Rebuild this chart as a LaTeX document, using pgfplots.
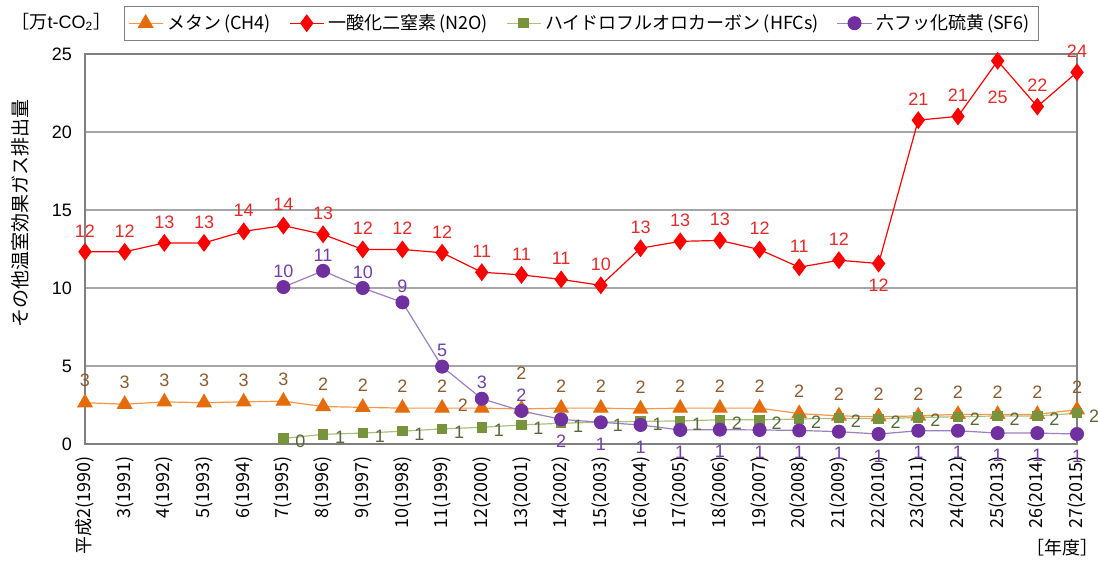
\documentclass[border=0pt]{standalone}
\usepackage{pgfplots}
\pgfplotsset{compat=1.18}
\usepackage{fontspec}
\setmainfont{Liberation Sans}
\newfontfamily\cjk{Noto Sans CJK JP}

\definecolor{ch4}{HTML}{E46C0A}
\definecolor{ch4line}{HTML}{F79646}
\definecolor{ch4lab}{HTML}{8E5A2E}
\definecolor{n2o}{HTML}{FF0000}
\definecolor{n2olab}{HTML}{E52A2A}
\definecolor{hfc}{HTML}{77933C}
\definecolor{hfcline}{HTML}{A8C080}
\definecolor{hfclab}{HTML}{55683A}
\definecolor{sf6}{HTML}{7030A0}
\definecolor{sf6line}{HTML}{9A80C0}
\definecolor{sf6lab}{HTML}{7040A8}
\definecolor{gridc}{HTML}{A6A6A6}

\begin{document}
\begin{tikzpicture}
\useasboundingbox (0,0) rectangle (549pt,281.5pt);
\begin{axis}[
  at={(42.5pt,59.5pt)}, anchor=south west,
  width=496pt, height=195pt, scale only axis,
  xmin=0, xmax=25, ymin=0, ymax=25,
  xtick={0,...,25}, ytick={0,5,...,25},
  xticklabels={平成2(1990),3(1991),4(1992),5(1993),6(1994),7(1995),8(1996),9(1997),10(1998),11(1999),12(2000),13(2001),14(2002),15(2003),16(2004),17(2005),18(2006),19(2007),20(2008),21(2009),22(2010),23(2011),24(2012),25(2013),26(2014),27(2015)},
  x tick label style={rotate=90, anchor=east, font=\cjk\fontsize{9}{10}\selectfont},
  xticklabel shift=2.5pt,
  y tick label style={font=\fontsize{9}{10}\selectfont},
  yticklabel shift=3pt,
  /pgf/number format/assume math mode=true,
  tick style={draw=none},
  ymajorgrids, grid style={gridc, line width=0.6pt},
  axis line style={draw=gray, line width=0.6pt},
  clip=false,
  legend columns=4,
  legend style={at={(0.5,1.079)}, anchor=center, draw=gray,
    font=\cjk\fontsize{9}{10}\selectfont, inner sep=2pt,
    /tikz/every even column/.append style={column sep=7pt}},
  point meta=y,
  nodes near coords={\pgfmathprintnumber[fixed,precision=0,assume math mode=true]{\pgfplotspointmeta}},
  every node near coord/.append style={font=\fontsize{9}{10}\selectfont, anchor=center},
]

% メタン
\addplot[color=ch4line, line width=0.6pt, mark=triangle*, mark size=4pt,
  mark options={fill=ch4, draw=ch4},
  every node near coord/.append style={text=ch4lab, yshift=11pt},
  coordinate style/.condition={abs(x-10)<0.1}{xshift=-9.5pt, yshift=-9.5pt},
  coordinate style/.condition={abs(x-11)<0.1}{yshift=7pt}]
coordinates {(0,2.65)(1,2.55)(2,2.7)(3,2.65)(4,2.7)(5,2.75)(6,2.4)(7,2.35)(8,2.3)
(9,2.3)(10,2.3)(11,2.25)(12,2.3)(13,2.3)(14,2.25)(15,2.3)(16,2.3)(17,2.3)
(18,1.95)(19,1.8)(20,1.75)(21,1.8)(22,1.9)(23,1.9)(24,1.9)(25,2.2)};
\addlegendentry{メタン\,(CH4)}

% 一酸化二窒素
\addplot[color=n2o, line width=0.6pt, mark=diamond*, mark size=4pt,
  mark options={fill=n2o, draw=n2o},
  every node near coord/.append style={text=n2olab, yshift=10.5pt},
  coordinate style/.condition={abs(x-20)<0.1}{yshift=-21.5pt},
  coordinate style/.condition={abs(x-23)<0.1}{yshift=-28.5pt}]
coordinates {(0,12.32)(1,12.32)(2,12.89)(3,12.89)(4,13.63)(5,14.0)(6,13.44)(7,12.47)
(8,12.47)(9,12.26)(10,11.01)(11,10.84)(12,10.55)(13,10.17)(14,12.55)(15,12.99)
(16,13.05)(17,12.46)(18,11.33)(19,11.78)(20,11.57)(21,20.76)(22,21.0)(23,24.56)
(24,21.63)(25,23.83)};
\addlegendentry{一酸化二窒素\,(N2O)}

% ハイドロフルオロカーボン
\addplot[color=hfcline, line width=0.6pt, mark=square*, mark size=2.3pt,
  mark options={fill=hfc, draw=hfc},
  every node near coord/.append style={text=hfclab, xshift=8.5pt, yshift=-1.5pt}]
coordinates {(5,0.35)(6,0.62)(7,0.7)(8,0.82)(9,0.97)(10,1.07)(11,1.22)(12,1.33)
(13,1.4)(14,1.45)(15,1.48)(16,1.55)(17,1.55)(18,1.6)(19,1.65)(20,1.62)(21,1.7)
(22,1.75)(23,1.8)(24,1.8)(25,1.97)};
\addlegendentry{ハイドロフルオロカーボン\,(HFCs)}

% 六フッ化硫黄
\addplot[color=sf6line, line width=0.6pt, mark=*, mark size=3.2pt,
  mark options={fill=sf6, draw=sf6},
  every node near coord/.append style={text=sf6lab, yshift=8pt},
  coordinate style/.condition={x>11.5}{yshift=-19pt}]
coordinates {(5,10.06)(6,11.1)(7,10.0)(8,9.08)(9,4.96)(10,2.9)(11,2.12)(12,1.58)
(13,1.39)(14,1.22)(15,0.9)(16,0.92)(17,0.9)(18,0.87)(19,0.79)(20,0.64)(21,0.85)
(22,0.85)(23,0.7)(24,0.7)(25,0.64)};
\addlegendentry{六フッ化硫黄\,(SF6)}

\node[rotate=90, font=\cjk\fontsize{9.5}{10}\selectfont]
  at (axis description cs:-0.0655,0.59) {その他温室効果ガス排出量};
\node[anchor=west, font=\fontsize{9}{10}\selectfont]
  at (axis description cs:-0.081,1.082) {{\cjk ［万}t-CO\textsubscript{2}{\cjk ］}};
\node[font=\cjk\fontsize{9}{10}\selectfont]
  at (axis description cs:0.985,-0.267) {［年度］};
\end{axis}
\end{tikzpicture}
\end{document}
